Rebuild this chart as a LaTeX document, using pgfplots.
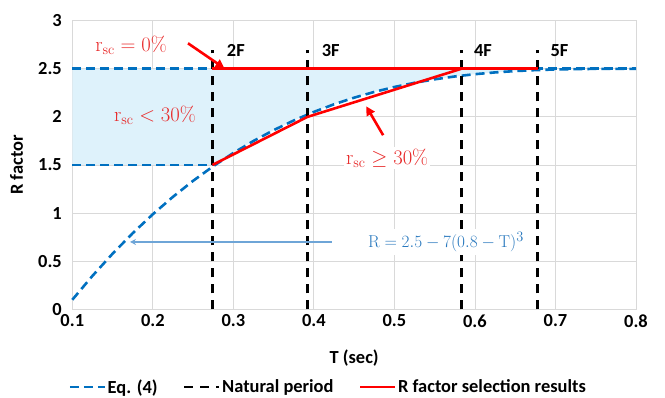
\documentclass[border=0pt]{standalone}
\usepackage[no-math]{fontspec}
\setmainfont{Carlito}
\usepackage{pgfplots}
\pgfplotsset{compat=1.18}
\usetikzlibrary{arrows.meta}
\definecolor{eqblue}{RGB}{0,112,192}
\definecolor{areablue}{RGB}{222,242,251}
\definecolor{arrowblue}{RGB}{110,165,215}
\definecolor{textblue}{RGB}{40,120,190}
\definecolor{txtred}{RGB}{232,40,40}
\definecolor{gridgray}{RGB}{217,217,217}
\begin{document}
\begin{tikzpicture}
\begin{axis}[
  scale only axis, width=563.7bp, height=288.6bp,
  xmin=0.1, xmax=0.8, ymin=0, ymax=3,
  xtick={0.1,0.2,0.3,0.4,0.5,0.6,0.7,0.8},
  xticklabels={\textbf{0.1},\textbf{0.2},\textbf{0.3},\textbf{0.4},\textbf{0.5},\textbf{0.6},\textbf{0.7},\textbf{0.8}},
  ytick={0,0.5,1,1.5,2,2.5,3},
  yticklabels={\textbf{0},\textbf{0.5},\textbf{1},\textbf{1.5},\textbf{2},\textbf{2.5},\textbf{3}},
  tick style={draw=none},
  grid=major, grid style={gridgray, line width=0.8bp},
  axis line style={gridgray, line width=0.8bp},
  tick label style={font=\fontsize{18.5}{20}\selectfont},
  xticklabel style={yshift=-2bp},
  yticklabel style={xshift=-7bp},
  xlabel={T (sec)}, ylabel={R factor},
  label style={font=\fontsize{18.5}{20}\selectfont\bfseries},
  xlabel style={at={(axis description cs:0.5,-0.169)}, anchor=center},
  ylabel style={at={(axis description cs:-0.099,0.5)}, anchor=center},
  legend style={draw=none, fill=none, font=\fontsize{18.5}{20}\selectfont\bfseries,
    at={(axis description cs:0.4536,-0.269)}, anchor=center,
    nodes={inner xsep=1.5bp},
    legend columns=3, /tikz/every even column/.append style={column sep=24bp}},
  legend image code/.code={\draw[#1] (0bp,0bp) -- (35bp,0bp);},
  clip=false,
]
% shaded region
\addplot[fill=areablue, draw=none, forget plot] coordinates {
 (0.1,2.5) (0.1,1.5) (0.274,1.5) (0.3,1.625) (0.325,1.7498) (0.35,1.8621)
 (0.375,1.9626) (0.4,2.052) (0.425,2.1309) (0.45,2.1999) (0.475,2.2597)
 (0.5,2.311) (0.525,2.3544) (0.55,2.3906) (0.575,2.4203) (0.6,2.444)
 (0.625,2.4625) (0.65,2.4764) (0.675,2.4863) (0.7,2.5)} -- cycle;
% Eq. (4)
\addplot[eqblue, line width=2.6bp, dash pattern=on 9bp off 5bp] coordinates {
 (0.1,0.099) (0.125,0.3472) (0.15,0.5776) (0.175,0.791) (0.2,0.988)
 (0.225,1.1692) (0.25,1.3354) (0.275,1.4871) (0.3,1.625) (0.325,1.7498)
 (0.35,1.8621) (0.375,1.9626) (0.4,2.052) (0.425,2.1309) (0.45,2.1999)
 (0.475,2.2597) (0.5,2.311) (0.525,2.3544) (0.55,2.3906) (0.575,2.4203)
 (0.6,2.444) (0.625,2.4625) (0.65,2.4764) (0.675,2.4863) (0.7,2.493)
 (0.725,2.497) (0.75,2.4991) (0.775,2.4999) (0.8,2.5)};
\addlegendentry{Eq. (4)}
\addplot[eqblue, line width=2.6bp, dash pattern=on 9bp off 5bp, forget plot] coordinates {(0.1,2.5) (0.8,2.5)};
\addplot[eqblue, line width=2.6bp, dash pattern=on 9bp off 5bp, forget plot] coordinates {(0.1,1.5) (0.274,1.5)};
% natural periods
\addplot[black, line width=2.6bp, dash pattern=on 9bp off 7bp] coordinates {(0.274,0) (0.274,2.7)};
\addlegendentry{Natural period}
\addplot[black, line width=2.6bp, dash pattern=on 9bp off 7bp, forget plot] coordinates {(0.392,0) (0.392,2.7)};
\addplot[black, line width=2.6bp, dash pattern=on 9bp off 7bp, forget plot] coordinates {(0.583,0) (0.583,2.7)};
\addplot[black, line width=2.6bp, dash pattern=on 9bp off 7bp, forget plot] coordinates {(0.678,0) (0.678,2.7)};
% R factor selection
\addplot[red, line width=2.6bp] coordinates {(0.274,2.5) (0.678,2.5)};
\addlegendentry{R factor selection results}
\addplot[red, line width=2.6bp, forget plot] coordinates {(0.274,1.5) (0.392,2.0) (0.583,2.5)};
% labels
\node[anchor=west, font=\fontsize{18.5}{20}\selectfont\bfseries] at (axis cs:0.2877,2.69) {2F};
\node[anchor=west, font=\fontsize{18.5}{20}\selectfont\bfseries] at (axis cs:0.4055,2.69) {3F};
\node[anchor=west, font=\fontsize{18.5}{20}\selectfont\bfseries] at (axis cs:0.5945,2.69) {4F};
\node[anchor=west, font=\fontsize{18.5}{20}\selectfont\bfseries] at (axis cs:0.6895,2.69) {5F};
\node[txtred, font=\fontsize{20}{23}\selectfont] at (axis cs:0.173,2.74) {$\mathrm{r_{sc}} = 0\%$};
\node[txtred, fill=areablue, inner sep=2bp, font=\fontsize{20}{23}\selectfont] at (axis cs:0.2027,2.02) {$\mathrm{r_{sc}} < 30\%$};
\node[txtred, fill=white, inner sep=2bp, font=\fontsize{20}{23}\selectfont] at (axis cs:0.491,1.572) {$\mathrm{r_{sc}} \geq 30\%$};
\draw[red, line width=2.6bp, -{Triangle[length=9bp,width=9bp]}] (axis cs:0.2437,2.765) -- (axis cs:0.289,2.505);
\draw[red, line width=2.6bp, -{Triangle[length=9bp,width=9bp]}] (axis cs:0.486,1.81) -- (axis cs:0.465,2.11);
\draw[arrowblue, line width=1.5bp, -{Stealth[length=6bp,width=6bp]}] (axis cs:0.422,0.7) -- (axis cs:0.1716,0.7);
\node[textblue, fill=white, inner sep=3bp, font=\fontsize{19}{22}\selectfont] at (axis cs:0.564,0.70) {$\mathrm{R} = 2.5 - 7(0.8 - \mathrm{T})^3$};
\end{axis}
\pgfresetboundingbox
\path[use as bounding box] (current axis.south west) ++(-72.3bp,-88.7bp) rectangle ++(665bp,398bp);
\end{tikzpicture}
\end{document}
